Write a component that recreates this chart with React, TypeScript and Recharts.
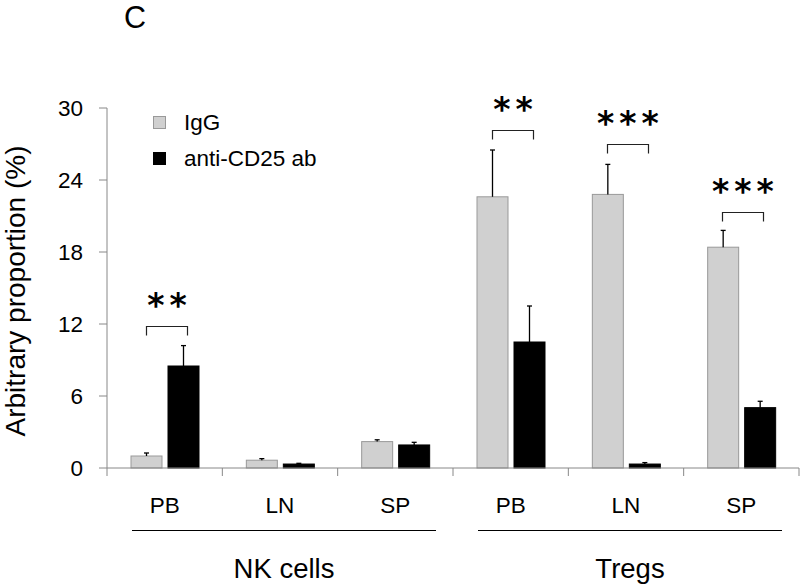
import { Bar, BarChart, XAxis, YAxis } from "recharts"

const categories = ["PB", "LN", "SP", "PB", "LN", "SP"]
const groups = ["NK cells", "NK cells", "NK cells", "Tregs", "Tregs", "Tregs"]
const igg = [1.0, 0.65, 2.2, 22.6, 22.8, 18.4]
const iggErr = [0.25, 0.13, 0.15, 3.9, 2.5, 1.4]
const antiCd25 = [8.5, 0.33, 1.92, 10.5, 0.33, 5.03]
const antiErr = [1.7, 0.06, 0.22, 3.0, 0.12, 0.53]
const stars = ["**", "", "", "**", "***", "***"]
const bracketLevel = [11.83, null, null, 28.2, 27.0, 21.3]
const yTicks = [0, 6, 12, 18, 24, 30]
const seriesNames = ["IgG", "anti-CD25 ab"]

const FONT = "'Liberation Sans', Arial, Helvetica, sans-serif"
const BAR_GAP = 6
const GREY = "#d0d0d0"

const data = categories.map((c, i) => ({
  key: `${groups[i]}-${c}`,
  igg: igg[i],
  iggErr: iggErr[i],
  anti: antiCd25[i],
  antiErr: antiErr[i],
  stars: stars[i],
  bracket: bracketLevel[i],
}))

function makeShape(valueKey: string, errKey: string, withBracket: boolean) {
  return (props: any) => {
    const { x, y, width, height, fill, stroke, payload } = props
    const v = payload[valueKey]
    const ppu = v ? height / v : 0
    const base = y + height
    const cx = x + width / 2
    const errTop = y - payload[errKey] * ppu
    let bracket = null
    if (withBracket && payload.bracket != null) {
      const top = Math.round(base - payload.bracket * ppu) + 0.5
      const left = Math.round(x - BAR_GAP - width / 2 - 1) + 0.5
      const right = Math.round(x + width / 2 + 3) + 0.5
      bracket = (
        <g>
          <path d={`M${left},${top + 9}V${top}H${right}V${top + 9}`} fill="none" stroke="#222" strokeWidth={1.2} />
          <text
            x={(left + right) / 2 + 2.5}
            y={top - 10}
            textAnchor="middle"
            fontSize={33}
            fontWeight="bold"
            letterSpacing={5}
            fontFamily="'DejaVu Sans', sans-serif"
            fill="#000"
          >
            {payload.stars}
          </text>
        </g>
      )
    }
    return (
      <g>
        <rect x={x} y={y} width={width} height={height} fill={fill} stroke={stroke} strokeWidth={1} />
        <line x1={cx} y1={y} x2={cx} y2={errTop} stroke="#000" strokeWidth={1.3} />
        <line x1={cx - 2.5} y1={errTop} x2={cx + 2.5} y2={errTop} stroke="#000" strokeWidth={1.3} />
        {bracket}
      </g>
    )
  }
}

function CategoryTick(props: any) {
  const { x, y, payload, index } = props
  const half = payload.offset || 0
  return (
    <g>
      <line x1={x - half} y1={y} x2={x - half} y2={y + 8} stroke="#888" />
      {index === categories.length - 1 && <line x1={x + half} y1={y} x2={x + half} y2={y + 8} stroke="#888" />}
      <text x={x} y={y + 45} textAnchor="middle" fontSize={22.5} fontFamily={FONT} fill="#000">
        {categories[index]}
      </text>
      {index % 3 === 1 && (
        <g>
          <line x1={x - 148} y1={y + 62.5} x2={x + 156} y2={y + 62.5} stroke="#000" strokeWidth={1} />
          <text x={x + 4} y={y + 110} textAnchor="middle" fontSize={27.5} fontFamily={FONT} fill="#000">
            {groups[index]}
          </text>
        </g>
      )}
    </g>
  )
}

function YLabel() {
  return (
    <text x={25} y={291} transform="rotate(-90, 25, 291)" textAnchor="middle" fontSize={28} fontFamily={FONT} fill="#000">
      Arbitrary proportion (%)
    </text>
  )
}

export default function App() {
  return (
    <div style={{ position: "relative", width: 800, height: 584, background: "#fff" }}>
      <style>{`body{margin:0}`}</style>
      <BarChart width={800} height={584} data={data} margin={{ top: 108, right: 1, bottom: 0, left: 0 }} barSize={31} barGap={BAR_GAP}>
        <XAxis
          dataKey="key"
          height={116}
          axisLine={{ stroke: "#888" }}
          tickLine={false}
          tickSize={0}
          tickMargin={0}
          interval={0}
          tick={<CategoryTick />}
        />
        <YAxis
          domain={[0, 30]}
          ticks={yTicks}
          width={107}
          tickSize={8}
          tickMargin={16}
          axisLine={{ stroke: "#888" }}
          tickLine={{ stroke: "#888" }}
          tick={{ fontSize: 22.5, fill: "#000", fontFamily: FONT }}
          label={{ content: () => <YLabel /> }}
        />
        <Bar dataKey="igg" fill={GREY} stroke="#999" isAnimationActive={false} shape={makeShape("igg", "iggErr", false)} />
        <Bar dataKey="anti" fill="#000" stroke="#000" isAnimationActive={false} shape={makeShape("anti", "antiErr", true)} />
      </BarChart>
      <svg width={800} height={584} style={{ position: "absolute", left: 0, top: 0, pointerEvents: "none" }}>
        <text x={124} y={28} fontSize={30.5} fontFamily={FONT} fill="#000">
          C
        </text>
        {seriesNames.map((n, i) => (
          <g key={n}>
            <rect
              x={153.5}
              y={116.5 + i * 36}
              width={12}
              height={12}
              fill={i === 0 ? GREY : "#000"}
              stroke={i === 0 ? "#999" : "#000"}
            />
            <text x={184} y={130 + i * 36} fontSize={22.5} fontFamily={FONT} fill="#000">
              {n}
            </text>
          </g>
        ))}
      </svg>
    </div>
  )
}
